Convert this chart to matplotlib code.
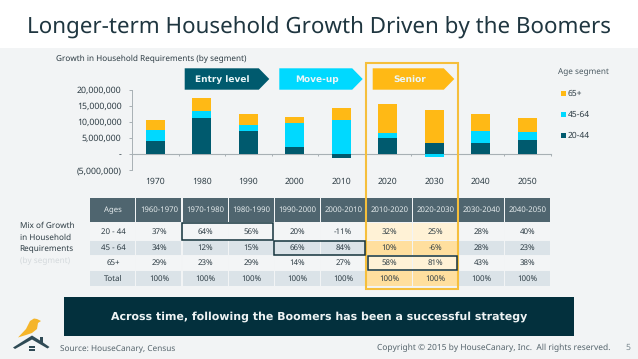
import matplotlib
matplotlib.use("Agg")
import matplotlib.pyplot as plt
from matplotlib.patches import Polygon, Rectangle
from matplotlib.ticker import FuncFormatter

years = ["1970", "1980", "1990", "2000", "2010", "2020", "2030", "2040", "2050"]
seg_20_44 = [4.06, 11.35, 7.1, 2.3, -1.35, 5.0, 3.33, 3.5, 4.4]
seg_45_64 = [3.4, 2.1, 1.9, 7.5, 10.7, 1.56, -0.8, 3.6, 2.5]
seg_65 = [3.1, 4.05, 3.65, 1.67, 3.55, 9.06, 10.5, 5.3, 4.3]
ages = ["20 - 44", "45 - 64", "65+", "Total"]
periods = ["1960-1970", "1970-1980", "1980-1990", "1990-2000", "2000-2010",
           "2010-2020", "2020-2030", "2030-2040", "2040-2050"]
mix_20_44 = ["37%", "64%", "56%", "20%", "-11%", "32%", "25%", "28%", "40%"]
mix_45_64 = ["34%", "12%", "15%", "66%", "84%", "10%", "-6%", "28%", "23%"]
mix_65 = ["29%", "23%", "29%", "14%", "27%", "58%", "81%", "43%", "38%"]
mix_total = ["100%"] * 9

W, H = 638, 359
DARK = "#005a6e"; CYAN = "#00d9ff"; GOLD = "#ffb915"; TXT = "#2c3b43"
plt.rcParams["font.family"] = ["Noto Sans", "DejaVu Sans"]
plt.rcParams["text.hinting"] = "none"
plt.rcParams["text.hinting_factor"] = 1
fig = plt.figure(figsize=(W/100, H/100), dpi=100, facecolor="#f2f4f5")

ov = fig.add_axes([0, 0, 1, 1], zorder=0)
ov.set_xlim(0, W); ov.set_ylim(H, 0); ov.axis("off")
top = fig.add_axes([0, 0, 1, 1], zorder=5)
top.set_xlim(0, W); top.set_ylim(H, 0); top.axis("off"); top.patch.set_alpha(0)

ov.add_patch(Rectangle((0, 0), W, 48, fc="white", ec="none"))
ov.text(319, 27, "Longer-term Household Growth Driven by the Boomers", fontsize=16.1,
        color="#1f3640", ha="center", va="center")
ov.text(56, 58.5, "Growth in Household Requirements (by segment)", fontsize=5.9, color=TXT, va="center")

ax = fig.add_axes([132/W, 1-170/H, (550.7-132)/W, 80/H], zorder=2)
ax.patch.set_alpha(0)
xs = list(range(len(years)))
def stack(vals_list, colors):
    pos = [0.0]*len(xs); neg = [0.0]*len(xs)
    for vals, c in zip(vals_list, colors):
        bottoms = [p if v >= 0 else n for v, p, n in zip(vals, pos, neg)]
        ax.bar(xs, vals, width=0.41, bottom=bottoms, color=c, zorder=3)
        for i, v in enumerate(vals):
            if v >= 0: pos[i] += v
            else: neg[i] += v
stack([seg_20_44, seg_45_64, seg_65], [DARK, CYAN, GOLD])
ax.set_xlim(-0.5, 8.5); ax.set_ylim(-5, 20)
ax.set_yticks([-5, 0, 5, 10, 15, 20])
def fmt(v, _):
    if v == 0: return "-"
    s = f"{abs(v)*1e6:,.0f}"
    return f"({s})" if v < 0 else s
ax.yaxis.set_major_formatter(FuncFormatter(fmt))
ax.set_xticks([i-0.5 for i in range(10)])
ax.set_xticklabels([])
ax.tick_params(axis="y", labelsize=6.3, labelcolor=TXT, color="#a8b0b4", length=2, width=0.7, pad=5.5)
ax.tick_params(axis="x", color="#a8b0b4", length=1.5, width=0.7, direction="out")
for s in ["top", "right"]:
    ax.spines[s].set_visible(False)
ax.spines["bottom"].set_position(("data", 0))
ax.spines["bottom"].set_color("#a8b0b4"); ax.spines["bottom"].set_linewidth(0.8)
ax.spines["left"].set_color("#a8b0b4"); ax.spines["left"].set_linewidth(0.7)
for i, y in enumerate(years):
    ax.annotate(y, (i, 0), xycoords=("data", "axes fraction"), xytext=(0, -8.4), textcoords="offset points",
                fontsize=6.2, color=TXT, ha="center", va="center")

def chev(x0, x1, c, label):
    tip = x1 - 10.5
    pts = [(x0, 68.3), (tip, 68.3), (x1, 79), (tip, 89.7), (x0, 89.7)]
    top.add_patch(Polygon(pts, fc=c, ec="none"))
    top.text((x0+tip)/2 + 1, 79.3, label, color="#eaf6f8", fontsize=6.2, family="DejaVu Sans",
             fontweight="bold", ha="center", va="center")
chev(184.7, 269.3, DARK, "Entry level")
chev(279.3, 362.7, CYAN, "Move-up")
chev(372.7, 454.3, GOLD, "Senior")

top.text(558, 71.5, "Age segment", fontsize=5.9, color="#4a5961", va="center")
for y, c, l in [(93, GOLD, "65+"), (114, CYAN, "45-64"), (135, DARK, "20-44")]:
    top.add_patch(Rectangle((561, y-2.5), 5, 5, fc=c, ec="none"))
    top.text(568, y+0.3, l, fontsize=6.1, color=TXT, va="center")

col_x = [90 + 46.05*i for i in range(11)]
row_y = [197.5, 222.7, 241, 255.5, 271, 287]
rows = [ages[0:1]+mix_20_44, ages[1:2]+mix_45_64, ages[2:3]+mix_65, ages[3:4]+mix_total]
header = ["Ages"] + periods
for c, h in enumerate(header):
    ov.add_patch(Rectangle((col_x[c]+.4, row_y[0]), 45.0, row_y[1]-row_y[0]-.8, fc="#4f656f", ec="none"))
    ov.text(col_x[c]+23, (row_y[0]+row_y[1])/2-.3, h, fontsize=5.6, color="#e6ecee", ha="center", va="center")
for r, row in enumerate(rows):
    for c, t in enumerate(row):
        shaded = r % 2 == 1
        senior = c in (6, 7)
        if senior:
            fc = "#ffdf9e" if shaded else "#fff2d6"
        else:
            fc = "#dbe3e8" if shaded else "#f3f5f6"
        ov.add_patch(Rectangle((col_x[c]+.4, row_y[r+1]), 45.0, row_y[r+2]-row_y[r+1]-.8, fc=fc, ec="none"))
        ov.text(col_x[c]+23, (row_y[r+1]+row_y[r+2])/2-.4, t, fontsize=5.7, color=TXT, ha="center", va="center")

top.add_patch(Rectangle((366.2, 62.7), 91.5, 226.3, fc="none", ec="#f5bf3c", lw=1.5))
for (x0, x1, r) in [(182.3, 273, 0), (274.4, 365.3, 1), (368, 456.7, 2)]:
    top.add_patch(Rectangle((x0, row_y[r+1]+.3), x1-x0, row_y[r+2]-row_y[r+1]-1.1,
                            fc="none", ec="#14333d", lw=1.1))

for y, t, col in [(226, "Mix of Growth", TXT), (237.5, "in Household", TXT), (249, "Requirements", TXT), (261, "(by segment)", "#d4d9dc")]:
    ov.text(19.5, y, t, fontsize=5.9, color=col, va="center")

ov.add_patch(Rectangle((63.7, 296.7), 510.3, 39.3, fc="#03303d", ec="none"))
ov.text(319, 316.3, "Across time, following the Boomers has been a successful strategy", fontsize=8.07,
        family="DejaVu Sans", fontweight="bold", color="#eef3f4", ha="center", va="center")

ov.text(60, 348.7, "Source: HouseCanary, Census", fontsize=5.95, color="#55646c", va="center")
ov.text(610, 348, "Copyright © 2015 by HouseCanary, Inc.  All rights reserved.", fontsize=6.05, color="#55646c", ha="right", va="center")
ov.text(630, 348, "5", fontsize=6.2, color="#7b8990", ha="right", va="center")

ROOF = "#2f4a55"
ov.add_patch(Polygon([(13, 347.5), (32, 335.5), (40, 340.5), (40, 337), (43, 337), (43, 342.5), (49.5, 347), (47.5, 348.5),
                      (32, 339.5), (15, 349)], fc=ROOF, ec="none"))
ov.add_patch(Polygon([(18, 337.5), (26, 329), (30, 321), (34, 318.5), (37, 319), (41, 321), (38, 323), (37, 329),
                      (32, 333), (26, 335)], fc="#f5b52a", ec="none"))
for dx in (0, 3.2):
    for dy in (0, 3.2):
        ov.add_patch(Rectangle((29+dx, 345.5+dy), 2.7, 2.7, fc=ROOF, ec="none"))

fig.savefig("out.png", dpi=100, facecolor=fig.get_facecolor())
